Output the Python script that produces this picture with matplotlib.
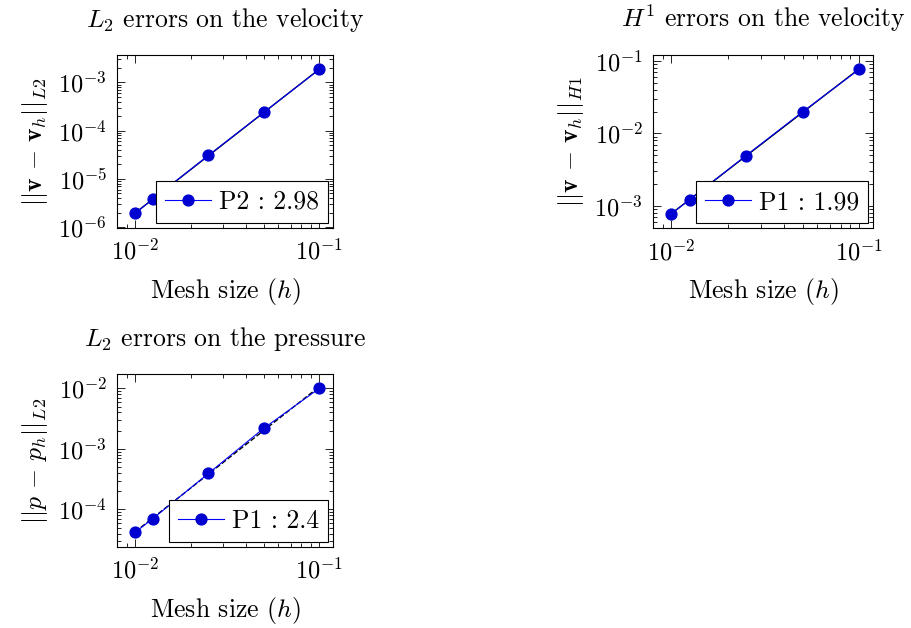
import numpy as np
import matplotlib
matplotlib.use("Agg")
import matplotlib.pyplot as plt
from matplotlib.ticker import LogLocator, NullFormatter

plt.rcParams.update({
    "font.family": "serif",
    "font.serif": ["cmr10", "DejaVu Serif"],
    "mathtext.fontset": "cm",
    "axes.formatter.use_mathtext": True,
    "font.size": 18,
    "axes.unicode_minus": False,
})

h = [0.01, 0.0125, 0.025, 0.05, 0.1]
err_v_l2 = [1.94e-6, 3.84e-6, 3.07e-5, 2.39e-4, 1.85e-3]
err_v_h1 = [7.75e-4, 1.22e-3, 4.96e-3, 1.99e-2, 7.67e-2]
err_p_l2 = [4.19e-5, 7.08e-5, 3.93e-4, 2.2e-3, 1.0e-2]

labels = ["P2 : 2.98", "P1 : 1.99", "P1 : 2.4"]
titles = [r"$L_2$ errors on the velocity", r"$H^1$ errors on the velocity",
          r"$L_2$ errors on the pressure"]
ylabels = [r"$||\mathbf{v}\,-\,\mathbf{v}_h||_{L2}$", r"$||\mathbf{v}\,-\,\mathbf{v}_h||_{H1}$",
           r"$||p\,-\,p_h||_{L2}$"]
fit_styles = ["-", "-", "--"]

W, H = 912, 628
fig = plt.figure(figsize=(W / 100, H / 100), dpi=100)

boxes = [
    (116.7, 55.0, 333.3, 227.7),
    (652.7, 55.0, 873.3, 228.3),
    (116.7, 374.0, 333.3, 546.7),
]
datas = [err_v_l2, err_v_h1, err_p_l2]

for (l, t, r, b), y, lab, ttl, yl, fs in zip(boxes, datas, labels, titles, ylabels, fit_styles):
    ax = fig.add_axes([l / W, 1 - b / H, (r - l) / W, (b - t) / H])
    ax.set_xscale("log")
    ax.set_yscale("log")
    x = np.array(h)
    yy = np.array(y)
    p = np.polyfit(np.log10(x), np.log10(yy), 1)
    ax.plot(x, 10 ** np.polyval(p, np.log10(x)), color="black", lw=1.0, ls=fs, zorder=2)
    ax.plot(x, yy, color="blue", lw=0.8, marker="o", markersize=7.8,
            markerfacecolor="#0000d0", markeredgecolor="#0000d0", label=lab, zorder=3)
    lx0, lx1 = np.log10(x.min()), np.log10(x.max())
    ax.set_xlim(10 ** (lx0 - 0.1), 10 ** (lx1 + 0.076))
    ly0, ly1 = np.log10(yy.min()), np.log10(yy.max())
    d = 0.1 * (ly1 - ly0)
    ax.set_ylim(10 ** (ly0 - d), 10 ** (ly1 + d))
    ax.xaxis.set_major_locator(LogLocator(base=10, numticks=10))
    ax.xaxis.set_minor_locator(LogLocator(base=10, subs=np.arange(2, 10), numticks=20))
    ax.yaxis.set_major_locator(LogLocator(base=10, numticks=10))
    ax.yaxis.set_minor_locator(LogLocator(base=10, subs=np.arange(2, 10), numticks=20))
    ax.xaxis.set_minor_formatter(NullFormatter())
    ax.yaxis.set_minor_formatter(NullFormatter())
    ax.tick_params(which="both", direction="in", top=True, right=True, width=0.6)
    ax.tick_params(which="major", length=6, labelsize=17.5)
    ax.tick_params(axis="x", which="major", pad=8)
    ax.tick_params(axis="y", which="major", pad=7)
    ax.tick_params(which="minor", length=3)
    for s in ax.spines.values():
        s.set_linewidth(0.8)
    ax.set_title(ttl, fontsize=18.5, pad=20)
    ax.set_xlabel(r"Mesh size $(h)$", fontsize=18.5, labelpad=8)
    ax.set_ylabel(yl, fontsize=18.5, labelpad=6)
    leg = ax.legend(loc="lower right", fancybox=False, framealpha=1, edgecolor="black",
                    fontsize=18.5, handlelength=1.8, borderaxespad=0.2, borderpad=0.35,
                    handletextpad=0.3)
    leg.get_frame().set_linewidth(0.8)

fig.savefig("out.png", dpi=100)
